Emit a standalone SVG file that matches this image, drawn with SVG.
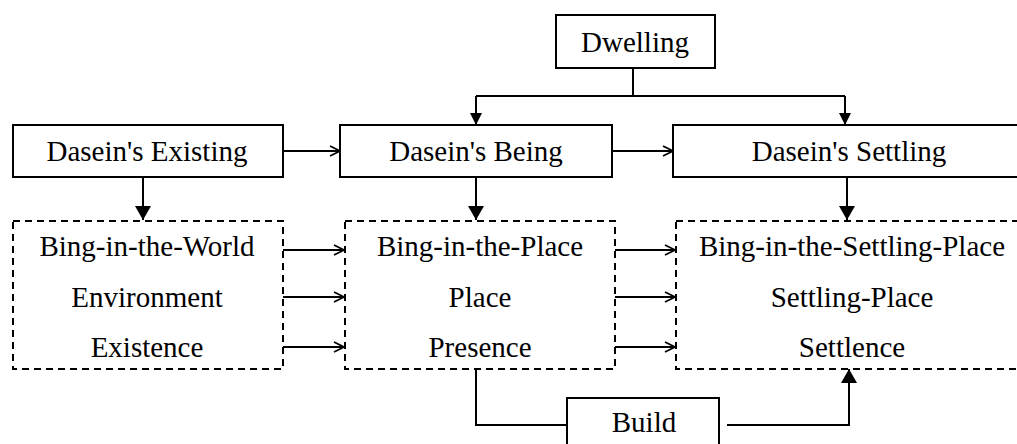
<svg xmlns="http://www.w3.org/2000/svg" width="1017" height="444" viewBox="0 0 1017 444">
<style>
.box{fill:#fff;stroke:#000;stroke-width:2}
.dash{fill:none;stroke:#000;stroke-width:2;stroke-dasharray:7,5}
.ln{fill:none;stroke:#000;stroke-width:2}
</style>
<defs>
<marker id="open" viewBox="0 0 12 12" refX="11" refY="6" markerWidth="12" markerHeight="12" markerUnits="userSpaceOnUse" orient="auto">
<path d="M1,1 L11,6 L1,11" fill="none" stroke="#000" stroke-width="1.8"/>
</marker>
<marker id="fill" viewBox="0 0 14 16" refX="14" refY="8" markerWidth="14" markerHeight="16" markerUnits="userSpaceOnUse" orient="auto">
<path d="M0,0 L14,8 L0,16 Z" fill="#000"/>
</marker>
<marker id="fillS" viewBox="0 0 12 12" refX="12" refY="6" markerWidth="12" markerHeight="12" markerUnits="userSpaceOnUse" orient="auto">
<path d="M0,0 L12,6 L0,12 Z" fill="#000"/>
</marker>
</defs>
<rect width="1017" height="444" fill="#fff"/>
<g id="connectors">
<path class="ln" d="M633,68 V96"/>
<path class="ln" d="M476,96 H845"/>
<path class="ln" d="M476,96 V125" marker-end="url(#fillS)"/>
<path class="ln" d="M845,96 V125" marker-end="url(#fillS)"/>
<path class="ln" d="M283,151 H340" marker-end="url(#open)"/>
<path class="ln" d="M612,151 H673" marker-end="url(#open)"/>
<path class="ln" d="M143,177 V220" marker-end="url(#fill)"/>
<path class="ln" d="M476,177 V220" marker-end="url(#fill)"/>
<path class="ln" d="M847,177 V220" marker-end="url(#fill)"/>
<path class="ln" d="M283,250 H344" marker-end="url(#open)"/>
<path class="ln" d="M283,297 H344" marker-end="url(#open)"/>
<path class="ln" d="M283,347 H344" marker-end="url(#open)"/>
<path class="ln" d="M615,250 H675" marker-end="url(#open)"/>
<path class="ln" d="M615,297 H675" marker-end="url(#open)"/>
<path class="ln" d="M615,347 H675" marker-end="url(#open)"/>
<path class="ln" d="M476,370 V425 H567"/>
<path class="ln" d="M727,425 H849 V369" marker-end="url(#fill)"/>
</g>
<g id="dwelling">
<rect class="box" x="556" y="15" width="159" height="53"/>
<text x="635" y="52" text-anchor="middle" style="font-family:'Liberation Serif',serif;font-size:29px">Dwelling</text>
</g>
<g id="existing">
<rect class="box" x="13" y="125" width="270" height="52"/>
<text x="147" y="161" text-anchor="middle" style="font-family:'Liberation Serif',serif;font-size:29px">Dasein's Existing</text>
</g>
<g id="being">
<rect class="box" x="340" y="125" width="272" height="52"/>
<text x="476" y="161" text-anchor="middle" style="font-family:'Liberation Serif',serif;font-size:29px">Dasein's Being</text>
</g>
<g id="settling">
<rect class="box" x="673" y="125" width="360" height="52"/>
<text x="849" y="161" text-anchor="middle" style="font-family:'Liberation Serif',serif;font-size:29px">Dasein's Settling</text>
</g>
<g id="world">
<rect class="dash" x="13" y="221" width="270" height="148"/>
<text x="147" y="256" text-anchor="middle" style="font-family:'Liberation Serif',serif;font-size:29px">Bing-in-the-World</text>
<text x="147" y="307" text-anchor="middle" style="font-family:'Liberation Serif',serif;font-size:29px">Environment</text>
<text x="147" y="357" text-anchor="middle" style="font-family:'Liberation Serif',serif;font-size:29px">Existence</text>
</g>
<g id="place">
<rect class="dash" x="345" y="221" width="270" height="148"/>
<text x="480" y="256" text-anchor="middle" style="font-family:'Liberation Serif',serif;font-size:29px">Bing-in-the-Place</text>
<text x="480" y="307" text-anchor="middle" style="font-family:'Liberation Serif',serif;font-size:29px">Place</text>
<text x="480" y="357" text-anchor="middle" style="font-family:'Liberation Serif',serif;font-size:29px">Presence</text>
</g>
<g id="settlingplace">
<rect class="dash" x="676" y="221" width="360" height="148"/>
<text x="852" y="256" text-anchor="middle" style="font-family:'Liberation Serif',serif;font-size:29px">Bing-in-the-Settling-Place</text>
<text x="852" y="307" text-anchor="middle" style="font-family:'Liberation Serif',serif;font-size:29px">Settling-Place</text>
<text x="852" y="357" text-anchor="middle" style="font-family:'Liberation Serif',serif;font-size:29px">Settlence</text>
</g>
<g id="build">
<rect class="box" x="567" y="398" width="152" height="60"/>
<text x="644" y="432" text-anchor="middle" style="font-family:'Liberation Serif',serif;font-size:29px">Build</text>
</g>
</svg>
